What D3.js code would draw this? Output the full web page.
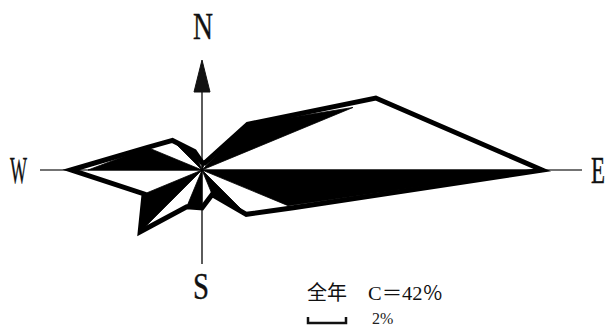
<!DOCTYPE html>
<html><head><meta charset="utf-8">
<script src="https://cdn.jsdelivr.net/npm/d3@7"></script>
<style>html,body{margin:0;padding:0;background:#fff;}svg{display:block;}</style>
</head><body>
<svg id="c" width="608" height="327"></svg>
<script>
const directions = ["N","NNE","NE","ENE","E","ESE","SE","SSE","S","SSW","SW","WSW","W","WNW","NW","NNW"];
// wind direction frequency (%), outline polygon
const frequency = [0.4,0.4,3.4,9.9,17.9,5.2,3.3,1.4,2.0,2.1,4.6,3.3,6.9,3.1,2.2,1.05];
// filled (shaded) petal radii (%)
const shaded = [0.4,0.4,3.4,8.6,17.6,4.9,3.3,1.4,2.0,2.1,4.6,3.3,6.0,3.1,2.2,1.05];
const compassLabels = ["N","E","S","W"];
const title = "全年";
const calmText = "C＝42％";
const scaleValue = 2;
const scaleLabel = "2%";

const svg = d3.select("#c");
const cx = 202, cy = 170;
const r = d3.scaleLinear().domain([0, 1]).range([0, 19]);
const angle = d3.scalePoint().domain(directions.concat(["_"])).range([0, 2 * Math.PI]);

const g = svg.append("g").attr("transform", `translate(${cx},${cy})`);

// axes
g.append("line").attr("x1", 40 - cx).attr("x2", 582 - cx).attr("y1", 0).attr("y2", 0)
  .attr("stroke", "#444").attr("stroke-width", 1.3);
g.append("line").attr("x1", 0).attr("x2", 0).attr("y1", 90 - cy).attr("y2", 264 - cy)
  .attr("stroke", "#333").attr("stroke-width", 1.6);
// north arrow
g.append("path").attr("d", `M0,${60 - cy} L8,${92 - cy} L-8,${92 - cy} Z`)
  .attr("fill", "#111").attr("stroke", "#111").attr("stroke-width", 1).attr("stroke-linejoin", "round");

// shaded petals (alternate sectors)
const radial = d3.lineRadial().angle(d => d.a).radius(d => d.r);
const petals = [];
for (let i = 0; i < directions.length; i += 2) {
  const j = (i + 1) % directions.length;
  petals.push([
    {a: 0, r: 0},
    {a: angle(directions[i]), r: r(shaded[i])},
    {a: angle(directions[j]), r: r(shaded[j])}
  ]);
}
g.selectAll("path.petal").data(petals).join("path").attr("class", "petal")
  .attr("d", d => radial(d) + "Z").attr("fill", "#000").attr("stroke", "#000").attr("stroke-width", 0.8);

// outline polygon
const outline = d3.lineRadial().angle((d, i) => angle(directions[i])).radius(d => r(d)).curve(d3.curveLinearClosed);
g.append("path").attr("d", outline(frequency)).attr("fill", "none")
  .attr("stroke", "#000").attr("stroke-width", 5).attr("stroke-linejoin", "miter").attr("stroke-miterlimit", 20);

// compass letters (condensed by horizontal scaling)
const letterPos = {N: [203, 39, 20], E: [598, 183, 14], S: [201, 299, 16], W: [18.5, 183, 17]};
svg.selectAll("text.dir").data(compassLabels).join("text").attr("class", "dir")
  .attr("text-anchor", "middle")
  .attr("font-family", "Liberation Serif, serif").attr("font-size", 38)
  .attr("fill", "#111").attr("stroke", "#111").attr("stroke-width", 0.4).text(d => d)
  .each(function(d) {
    const w = this.getComputedTextLength();
    const sx = letterPos[d][2] / w;
    d3.select(this).attr("transform", `translate(${letterPos[d][0]},${letterPos[d][1]}) scale(${sx},1)`);
  });

// legend
svg.append("text").attr("x", 307).attr("y", 300).attr("font-family", "Noto Sans CJK SC")
  .attr("font-size", 20).attr("fill", "#111").text(title);
svg.append("text").attr("x", 368).attr("y", 300).attr("font-family", "Liberation Serif, Noto Sans CJK SC")
  .attr("font-size", 19).attr("fill", "#111").attr("textLength", 75).attr("lengthAdjust", "spacingAndGlyphs").text(calmText);

const bx = 308, by = 323, bw = r(scaleValue);
svg.append("path").attr("d", `M${bx},${by - 6} V${by} H${bx + bw} V${by - 6}`)
  .attr("fill", "none").attr("stroke", "#111").attr("stroke-width", 2.5);
svg.append("text").attr("x", 372).attr("y", 324).attr("font-family", "Liberation Serif, serif")
  .attr("font-size", 16).attr("fill", "#222").text(scaleLabel);
</script>
</body></html>
